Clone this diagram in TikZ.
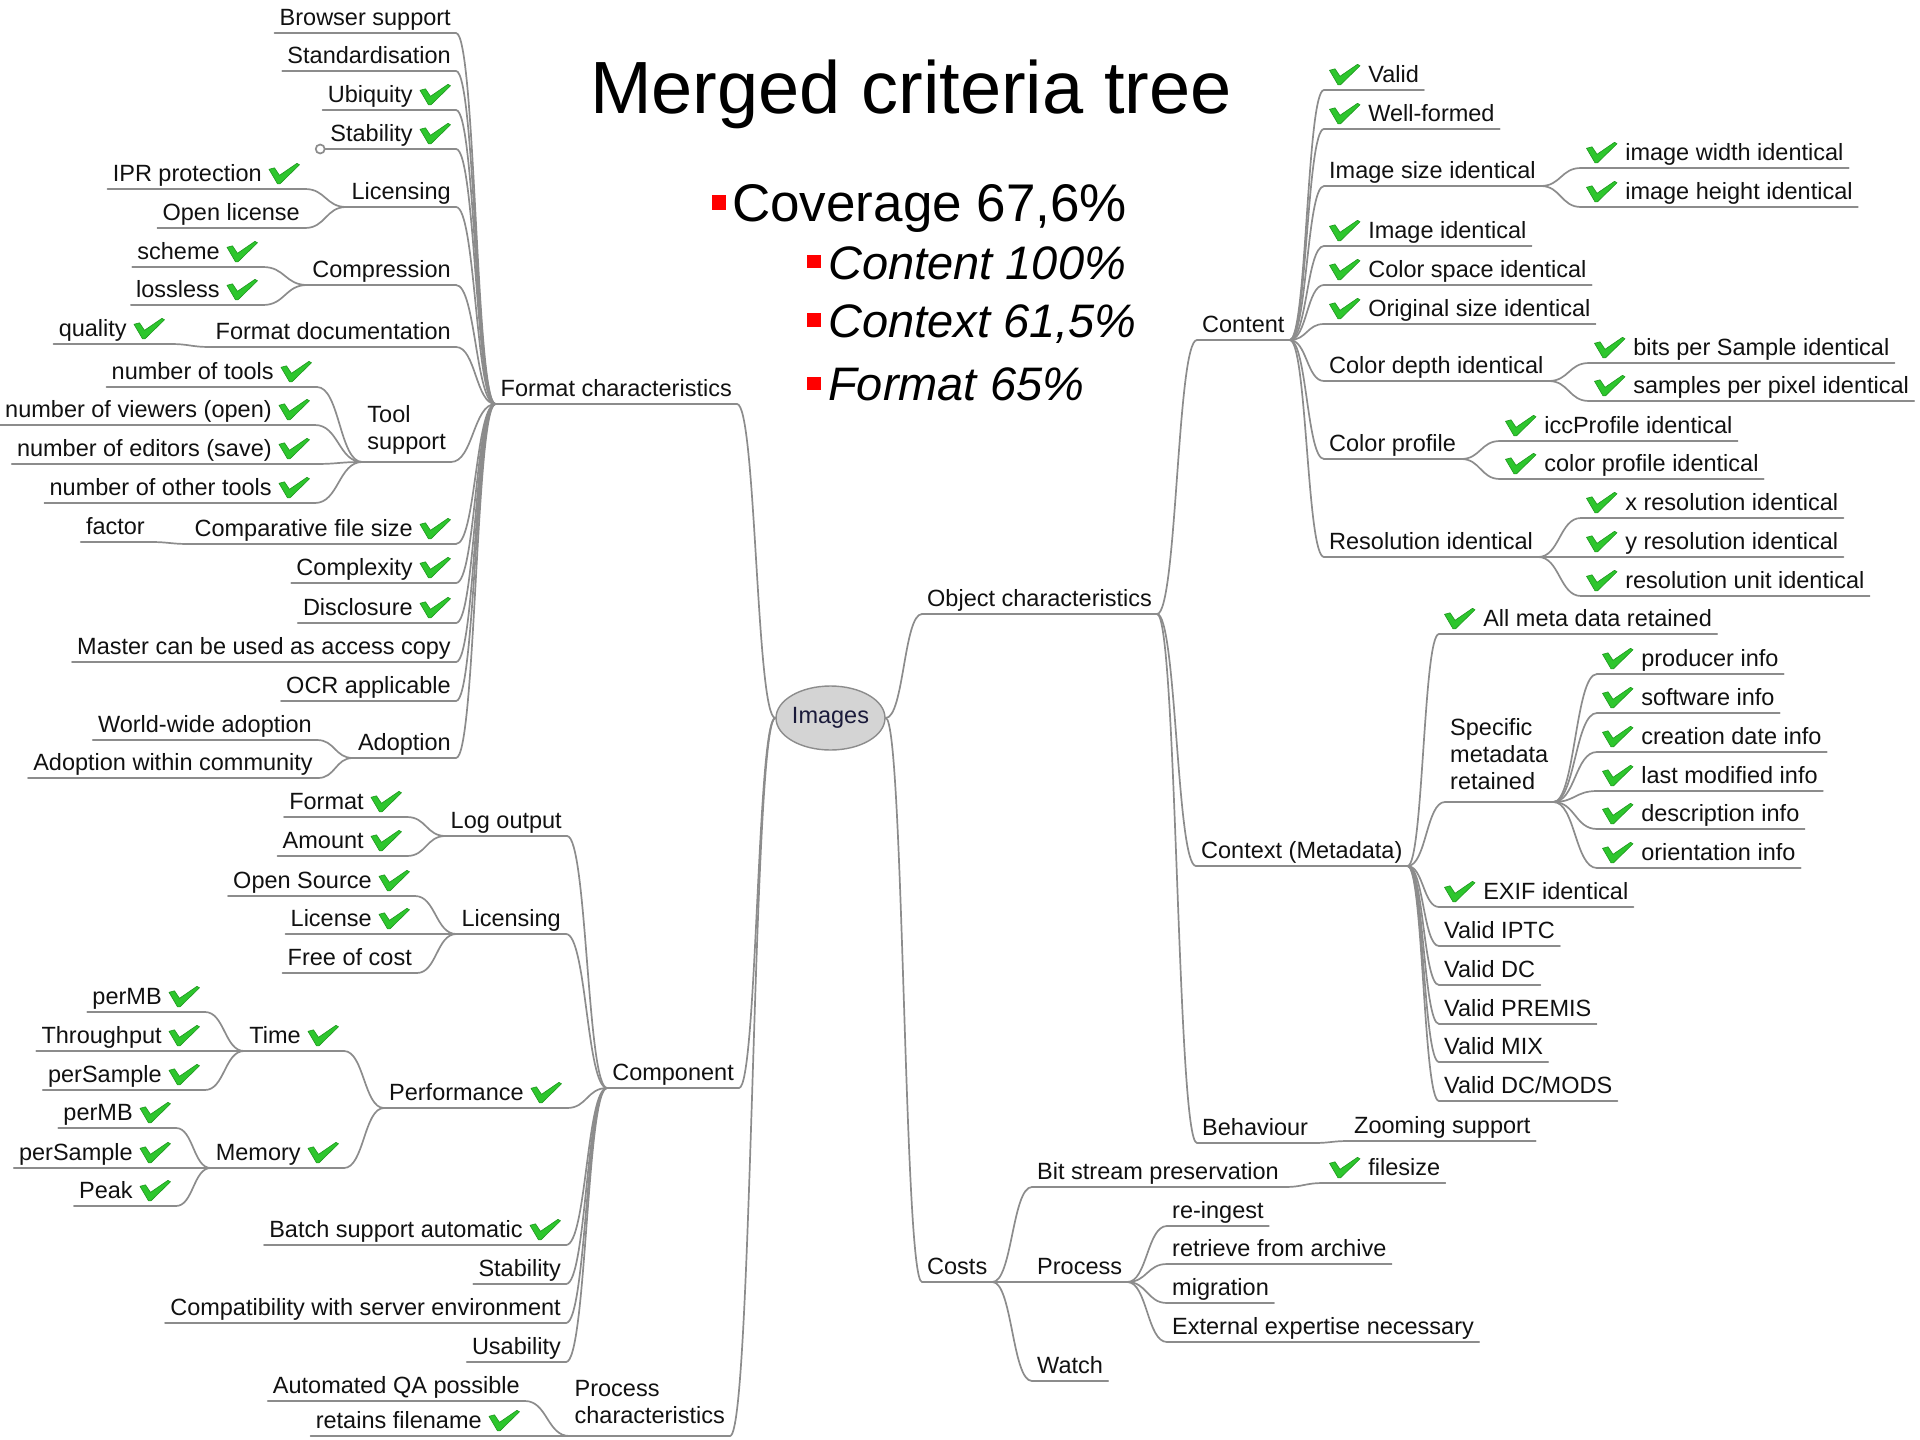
\documentclass[tikz,border=0pt]{standalone}
\usepackage{fontspec}
\setmainfont{Liberation Sans}
\usetikzlibrary{calc,shapes.geometric}
\definecolor{lnc}{HTML}{8C8C8C}
\definecolor{txt}{HTML}{111111}
\definecolor{chk}{HTML}{2DC62D}
\definecolor{chkd}{HTML}{1E961E}
\definecolor{bul}{HTML}{FF0000}
\definecolor{ellf}{HTML}{D4D4D4}
\definecolor{imgt}{HTML}{1A1A3A}
\tikzset{
  link/.style={draw=lnc, line width=1.7pt, line cap=round},
  nd/.style={font=\fontsize{23.5}{27}\selectfont, text=txt, inner xsep=5pt, inner ysep=7pt, text depth=0pt},
  ml/.style={align=left, inner ysep=12pt},
}
\newcommand{\ok}{\tikz[baseline=0pt,x=1pt,y=1pt]{\filldraw[fill=chk, draw=chkd, line width=0.6pt, line join=round] (0,12.5) -- (5.5,14) -- (10.5,6.5) -- (28,18.5) -- (30.5,17) -- (11,-2) -- (8.5,-2) -- cycle;}}
\newcommand{\ndL}[5][]{\node[nd,anchor=south east,#1] (#2) at (#3,#4) {#5};\draw[link] (#2.south west) -- (#2.south east);}
\newcommand{\ndR}[5][]{\node[nd,anchor=south west,#1] (#2) at (#3,#4) {#5};\draw[link] (#2.south west) -- (#2.south east);}
\newcommand{\conP}[2]{\draw[link] let \p1=(#1), \p2=(#2), \p3=($(\p1)!0.5!(\p2)$) in (\p1) .. controls (\x3,\y1) and (\x3,\y2) .. (\p2);}
\newcommand{\con}[2]{\conP{#1.south east}{#2.south west}}
\begin{document}
\begin{tikzpicture}[x=1pt,y=-1pt]
\useasboundingbox (0,0) rectangle (1920,1440);

% ---------- title and summary ----------
\node[inner sep=0pt, anchor=base west, font=\fontsize{74}{80}\selectfont] (title) at (590,113) {Merged criteria tree};
\node[inner sep=0pt, anchor=base west, font=\fontsize{53}{60}\selectfont] (cov) at (732,221) {Coverage 67,6\%};
\node[inner sep=0pt, anchor=base west, font=\fontsize{47}{54}\selectfont\itshape] (scont) at (828,279) {Content 100\%};
\node[inner sep=0pt, anchor=base west, font=\fontsize{47}{54}\selectfont\itshape] (sctx) at (828,337) {Context 61,5\%};
\node[inner sep=0pt, anchor=base west, font=\fontsize{47}{54}\selectfont\itshape] (sfmt) at (828,400) {Format 65\%};
\fill[bul] (712,195) rectangle (726,210);
\fill[bul] (807,255) rectangle (821,268);
\fill[bul] (807,313) rectangle (821,327);
\fill[bul] (807,377) rectangle (821,390);

% ---------- root ----------
\node[ellipse, draw=lnc, fill=ellf, line width=1.4pt, minimum width=107pt, minimum height=64pt, inner sep=0pt, font=\fontsize{23.5}{27}\selectfont, text=imgt] (img) at (830.5,718) {Images};

% ---------- Format characteristics ----------
\ndL{fc}{737}{404}{Format characteristics}
\ndL{f1}{456}{33}{Browser support}
\ndL{f2}{456}{71}{Standardisation}
\ndL{f3}{456}{110}{Ubiquity\hspace{7pt}\ok}
\ndL{f4}{456}{149}{Stability\hspace{7pt}\ok}
\ndL{f5}{456}{207}{Licensing}
\ndL{f5a}{305}{189}{IPR protection\hspace{7pt}\ok}
\ndL{f5b}{305}{228}{Open license}
\ndL{f6}{456}{285}{Compression}
\ndL{f6a}{263}{267}{scheme\hspace{7pt}\ok}
\ndL{f6b}{263}{305}{lossless\hspace{7pt}\ok}
\ndL{f7}{456}{347}{Format documentation}
\ndL{f7a}{170}{344}{quality\hspace{7pt}\ok}
\ndL[ml]{f8}{451}{462}{Tool\\support}
\ndL{f8a}{317}{387}{number of tools\hspace{7pt}\ok}
\ndL{f8b}{315}{425}{number of viewers (open)\hspace{7pt}\ok}
\ndL{f8c}{315}{464}{number of editors (save)\hspace{7pt}\ok}
\ndL{f8d}{315}{503}{number of other tools\hspace{7pt}\ok}
\ndL{f9}{456}{544}{Comparative file size\hspace{7pt}\ok}
\ndL{f9a}{150}{542}{factor}
\ndL{f10}{456}{583}{Complexity\hspace{7pt}\ok}
\ndL{f11}{456}{623}{Disclosure\hspace{7pt}\ok}
\ndL{f12}{456}{662}{Master can be used as access copy}
\ndL{f13}{456}{701}{OCR applicable}
\ndL{f14}{456}{758}{Adoption}
\ndL{f14a}{317}{740}{World-wide adoption}
\ndL{f14b}{318}{778}{Adoption within community}
\draw[link] (f4.south west) -- ++(-0.5,0);
\draw[link, fill=white] ($(f4.south west)+(-5,0)$) circle (4.5pt);

\foreach \c in {f1,f2,f3,f4,f5,f6,f7,f8,f9,f10,f11,f12,f13,f14} {\con{\c}{fc}}
\con{f5a}{f5} \con{f5b}{f5}
\con{f6a}{f6} \con{f6b}{f6}
\con{f7a}{f7}
\foreach \c in {f8a,f8b,f8c,f8d} {\con{\c}{f8}}
\con{f9a}{f9}
\con{f14a}{f14} \con{f14b}{f14}

% ---------- Component ----------
\ndL{comp}{739}{1088}{Component}
\ndL{c1}{567}{836}{Log output}
\ndL{c1a}{407}{817}{Format\hspace{7pt}\ok}
\ndL{c1b}{407}{856}{Amount\hspace{7pt}\ok}
\ndL{c2}{566}{934}{Licensing}
\ndL{c2a}{415}{896}{Open Source\hspace{7pt}\ok}
\ndL{c2b}{415}{934}{License\hspace{7pt}\ok}
\ndL{c2c}{417}{973}{Free of cost}
\ndL{c3}{567}{1108}{Performance\hspace{7pt}\ok}
\ndL{c3a}{344}{1051}{Time\hspace{7pt}\ok}
\ndL{c3a1}{205}{1012}{perMB\hspace{7pt}\ok}
\ndL{c3a2}{205}{1051}{Throughput\hspace{7pt}\ok}
\ndL{c3a3}{205}{1090}{perSample\hspace{7pt}\ok}
\ndL{c3b}{344}{1168}{Memory\hspace{7pt}\ok}
\ndL{c3b1}{176}{1128}{perMB\hspace{7pt}\ok}
\ndL{c3b2}{176}{1168}{perSample\hspace{7pt}\ok}
\ndL{c3b3}{176}{1206}{Peak\hspace{7pt}\ok}
\ndL{c4}{566}{1245}{Batch support automatic\hspace{7pt}\ok}
\ndL{c5}{566}{1284}{Stability}
\ndL{c6}{566}{1323}{Compatibility with server environment}
\ndL{c7}{566}{1362}{Usability}
\foreach \c in {c1,c2,c3,c4,c5,c6,c7} {\con{\c}{comp}}
\con{c1a}{c1} \con{c1b}{c1}
\con{c2a}{c2} \con{c2b}{c2} \con{c2c}{c2}
\con{c3a}{c3} \con{c3b}{c3}
\con{c3a1}{c3a} \con{c3a2}{c3a} \con{c3a3}{c3a}
\con{c3b1}{c3b} \con{c3b2}{c3b} \con{c3b3}{c3b}

% ---------- Process characteristics ----------
\ndL[ml]{pc}{730}{1436}{Process\\characteristics}
\ndL{pc1}{525}{1401}{Automated QA possible}
\ndL{pc2}{525}{1436}{retains filename\hspace{7pt}\ok}
\con{pc1}{pc} \con{pc2}{pc}

% ---------- Object characteristics ----------
\ndR{oc}{922}{614}{Object characteristics}
\ndR{ct}{1197}{340}{Content}
\ndR{k1}{1324}{90}{\ok\hspace{8pt}Valid}
\ndR{k2}{1324}{129}{\ok\hspace{8pt}Well-formed}
\ndR{k3}{1324}{186}{Image size identical}
\ndR{k3a}{1581}{168}{\ok\hspace{8pt}image width identical}
\ndR{k3b}{1581}{207}{\ok\hspace{8pt}image height identical}
\ndR{k4}{1324}{246}{\ok\hspace{8pt}Image identical}
\ndR{k5}{1324}{285}{\ok\hspace{8pt}Color space identical}
\ndR{k6}{1324}{324}{\ok\hspace{8pt}Original size identical}
\ndR{k7}{1324}{381}{Color depth identical}
\ndR{k7a}{1589}{363}{\ok\hspace{8pt}bits per Sample identical}
\ndR{k7b}{1589}{401}{\ok\hspace{8pt}samples per pixel identical}
\ndR{k8}{1324}{459}{Color profile}
\ndR{k8a}{1500}{441}{\ok\hspace{8pt}iccProfile identical}
\ndR{k8b}{1500}{479}{\ok\hspace{8pt}color profile identical}
\ndR{k9}{1324}{557}{Resolution identical}
\ndR{k9a}{1581}{518}{\ok\hspace{8pt}x resolution identical}
\ndR{k9b}{1581}{557}{\ok\hspace{8pt}y resolution identical}
\ndR{k9c}{1581}{596}{\ok\hspace{8pt}resolution unit identical}
\foreach \c in {k1,k2,k3,k4,k5,k6,k7,k8,k9} {\con{ct}{\c}}
\con{k3}{k3a} \con{k3}{k3b}
\con{k7}{k7a} \con{k7}{k7b}
\con{k8}{k8a} \con{k8}{k8b}
\con{k9}{k9a} \con{k9}{k9b} \con{k9}{k9c}

\ndR{cx}{1196}{866}{Context (Metadata)}
\ndR{m1}{1439}{634}{\ok\hspace{8pt}All meta data retained}
\ndR[ml]{m2}{1445}{802}{Specific\\metadata\\retained}
\ndR{m2a}{1597}{674}{\ok\hspace{8pt}producer info}
\ndR{m2b}{1597}{713}{\ok\hspace{8pt}software info}
\ndR{m2c}{1597}{752}{\ok\hspace{8pt}creation date info}
\ndR{m2d}{1597}{791}{\ok\hspace{8pt}last modified info}
\ndR{m2e}{1597}{829}{\ok\hspace{8pt}description info}
\ndR{m2f}{1597}{868}{\ok\hspace{8pt}orientation info}
\ndR{m3}{1439}{907}{\ok\hspace{8pt}EXIF identical}
\ndR{m4}{1439}{946}{Valid IPTC}
\ndR{m5}{1439}{985}{Valid DC}
\ndR{m6}{1439}{1024}{Valid PREMIS}
\ndR{m7}{1439}{1062}{Valid MIX}
\ndR{m8}{1439}{1101}{Valid DC/MODS}
\foreach \c in {m1,m2,m3,m4,m5,m6,m7,m8} {\con{cx}{\c}}
\foreach \c in {m2a,m2b,m2c,m2d,m2e,m2f} {\con{m2}{\c}}

\ndR{bh}{1197}{1143}{Behaviour}
\ndR{bh1}{1349}{1141}{Zooming support}
\con{bh}{bh1}

\con{oc}{ct} \con{oc}{cx} \con{oc}{bh}

% ---------- Costs ----------
\ndR{costs}{922}{1282}{Costs}
\ndR{s1}{1032}{1187}{Bit stream preservation}
\ndR{s1a}{1324}{1183}{\ok\hspace{8pt}filesize}
\ndR{s2}{1032}{1282}{Process}
\ndR{s2a}{1167}{1226}{re-ingest}
\ndR{s2b}{1167}{1264}{retrieve from archive}
\ndR{s2c}{1167}{1303}{migration}
\ndR{s2d}{1167}{1342}{External expertise necessary}
\ndR{s3}{1032}{1381}{Watch}
\con{costs}{s1} \con{costs}{s2} \con{costs}{s3}
\con{s1}{s1a}
\foreach \c in {s2a,s2b,s2c,s2d} {\con{s2}{\c}}

% ---------- main branches ----------
\conP{fc.south east}{img.west}
\conP{comp.south east}{img.west}
\conP{pc.south east}{img.west}
\conP{img.east}{oc.south west}
\conP{img.east}{costs.south west}
\end{tikzpicture}
\end{document}
